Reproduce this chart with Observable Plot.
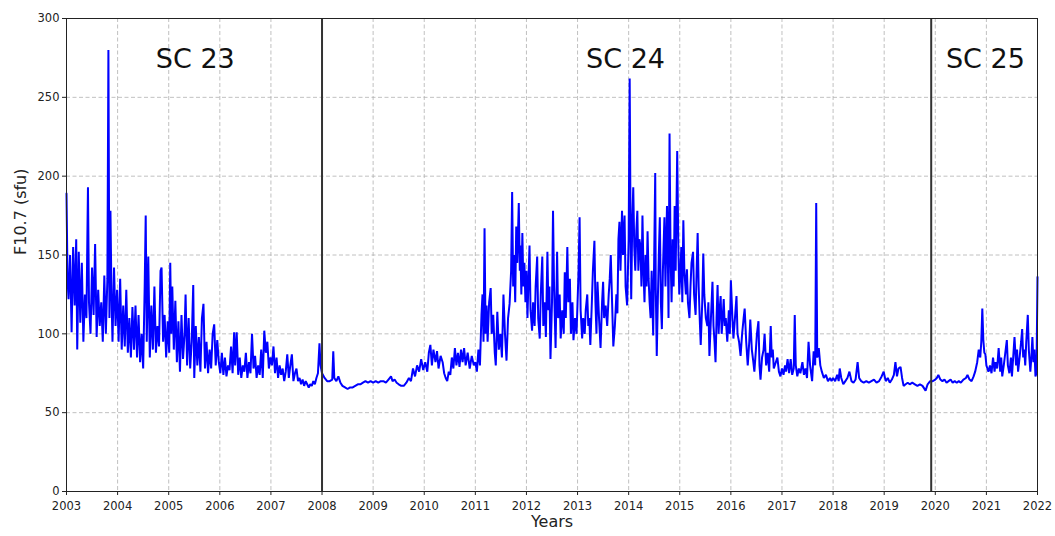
<!DOCTYPE html>
<html>
<head>
<meta charset="utf-8">
<script src="https://cdn.jsdelivr.net/npm/d3@7"></script>
<script src="https://cdn.jsdelivr.net/npm/@observablehq/plot@0.6"></script>
<style>
  html, body { margin: 0; padding: 0; background: #fff; }
  #chart svg { display: block; }
</style>
</head>
<body>
<div id="chart"></div>
<script>
// [decimal year, F10.7 (sfu)]
const f107_2003_2007 = [
[2003.00,189],[2003.02,135],[2003.04,122],[2003.07,150],[2003.10,101],[2003.13,155],[2003.16,118],[2003.19,160],[2003.21,90],[2003.24,152],[2003.27,107],[2003.30,145],[2003.33,95],[2003.36,125],[2003.39,110],[2003.42,193],[2003.44,120],[2003.47,100],[2003.50,142],[2003.53,112],[2003.56,157],[2003.59,98],[2003.62,128],[2003.65,105],[2003.68,120],[2003.71,95],[2003.74,137],[2003.77,100],[2003.80,135],[2003.82,280],[2003.84,110],[2003.86,178],[2003.88,125],[2003.90,95],[2003.93,142],[2003.96,105],[2003.99,128],
[2004.02,95],[2004.05,135],[2004.08,90],[2004.11,118],[2004.14,92],[2004.17,128],[2004.20,88],[2004.23,110],[2004.26,85],[2004.29,117],[2004.32,90],[2004.35,118],[2004.38,85],[2004.41,112],[2004.44,82],[2004.47,100],[2004.50,78],[2004.53,130],[2004.55,175],[2004.57,95],[2004.60,149],[2004.63,85],[2004.66,118],[2004.69,90],[2004.72,130],[2004.75,88],[2004.78,105],[2004.81,92],[2004.84,140],[2004.86,142],[2004.89,95],[2004.92,112],[2004.95,85],[2004.98,108],
[2005.01,88],[2005.03,145],[2005.05,100],[2005.07,130],[2005.10,90],[2005.13,121],[2005.16,82],[2005.19,108],[2005.22,76],[2005.25,112],[2005.28,84],[2005.31,100],[2005.33,125],[2005.36,80],[2005.39,110],[2005.42,78],[2005.45,95],[2005.48,131],[2005.50,72],[2005.53,105],[2005.56,80],[2005.59,98],[2005.62,76],[2005.65,110],[2005.68,119],[2005.71,78],[2005.74,95],[2005.77,75],[2005.80,90],[2005.83,78],[2005.86,100],[2005.89,106],[2005.92,80],[2005.95,96],[2005.98,82],
[2006.01,75],[2006.04,88],[2006.07,74],[2006.10,85],[2006.13,73],[2006.16,80],[2006.19,77],[2006.22,92],[2006.25,75],[2006.28,101],[2006.30,80],[2006.33,101],[2006.36,74],[2006.39,85],[2006.42,72],[2006.45,80],[2006.48,76],[2006.51,88],[2006.54,72],[2006.57,82],[2006.60,75],[2006.63,100],[2006.66,78],[2006.69,86],[2006.72,72],[2006.75,80],[2006.78,74],[2006.81,90],[2006.84,72],[2006.87,102],[2006.90,88],[2006.93,95],[2006.96,78],[2006.99,85],
[2007.02,80],[2007.05,92],[2007.08,75],[2007.11,85],[2007.14,72],[2007.17,80],[2007.20,74],[2007.23,78],[2007.26,70],[2007.29,76],[2007.32,87],[2007.35,72],[2007.38,80],[2007.41,87],[2007.44,70],[2007.47,75],[2007.50,78],[2007.53,70],[2007.56,72],[2007.59,68],[2007.62,71],[2007.65,67],[2007.68,70],[2007.71,68],[2007.74,66],[2007.77,68],[2007.80,67],[2007.83,70],[2007.86,68],[2007.89,72],[2007.92,75],[2007.95,94],[2007.97,80]
];
const f107_2008_2010 = [
[2008.00,75],[2008.05,72],[2008.10,70],[2008.15,70],[2008.20,71],[2008.22,89],[2008.24,72],[2008.28,70],[2008.32,73],[2008.36,69],[2008.40,67],[2008.45,66],[2008.50,65],[2008.55,66],[2008.60,66],[2008.65,67],[2008.70,68],[2008.75,68],[2008.80,69],[2008.85,70],[2008.90,69],[2008.95,70],
[2009.00,69],[2009.05,70],[2009.10,69],[2009.15,70],[2009.20,70],[2009.25,69],[2009.30,71],[2009.35,73],[2009.38,70],[2009.42,71],[2009.46,69],[2009.50,68],[2009.55,67],[2009.60,67],[2009.65,69],[2009.70,72],[2009.74,70],[2009.78,78],[2009.82,73],[2009.86,80],[2009.90,76],[2009.94,84],[2009.98,77],
[2010.02,82],[2010.06,76],[2010.09,88],[2010.12,93],[2010.15,80],[2010.18,90],[2010.22,82],[2010.25,89],[2010.28,78],[2010.32,86],[2010.36,82],[2010.39,75],[2010.42,72],[2010.45,70],[2010.48,76],[2010.51,74],[2010.54,85],[2010.57,78],[2010.60,91],[2010.63,80],[2010.66,88],[2010.69,79],[2010.72,90],[2010.75,82],[2010.78,91],[2010.81,80],[2010.85,88],[2010.89,78],[2010.93,86],[2010.97,80]
];
const f107_2011_2016 = [
[2011.00,82],[2011.03,76],[2011.06,90],[2011.09,80],[2011.12,112],[2011.14,125],[2011.16,95],[2011.18,167],[2011.20,100],[2011.22,118],[2011.24,95],[2011.27,120],[2011.30,129],[2011.32,100],[2011.35,112],[2011.38,88],[2011.40,80],[2011.43,114],[2011.46,90],[2011.49,100],[2011.52,85],[2011.55,125],[2011.58,100],[2011.61,83],[2011.64,110],[2011.67,119],[2011.70,140],[2011.72,190],[2011.74,130],[2011.76,150],[2011.78,120],[2011.80,168],[2011.82,145],[2011.85,183],[2011.87,140],[2011.88,156],[2011.90,125],[2011.92,164],[2011.94,130],[2011.96,145],[2011.98,120],
[2012.00,140],[2012.02,110],[2012.04,135],[2012.06,156],[2012.08,115],[2012.11,102],[2012.13,120],[2012.16,105],[2012.18,130],[2012.21,149],[2012.23,110],[2012.26,97],[2012.28,125],[2012.31,149],[2012.33,105],[2012.36,120],[2012.38,98],[2012.41,152],[2012.43,115],[2012.45,130],[2012.47,84],[2012.50,120],[2012.52,178],[2012.54,130],[2012.57,91],[2012.60,152],[2012.62,110],[2012.65,125],[2012.67,97],[2012.70,115],[2012.73,100],[2012.75,139],[2012.77,110],[2012.80,155],[2012.82,120],[2012.85,135],[2012.87,100],[2012.90,120],[2012.92,96],[2012.95,110],[2012.98,100],
[2013.00,120],[2013.02,140],[2013.04,174],[2013.06,115],[2013.09,97],[2013.11,110],[2013.14,100],[2013.16,115],[2013.19,125],[2013.21,105],[2013.23,110],[2013.25,93],[2013.28,120],[2013.30,140],[2013.33,159],[2013.35,120],[2013.37,100],[2013.39,133],[2013.42,110],[2013.45,91],[2013.48,120],[2013.50,133],[2013.52,110],[2013.55,118],[2013.58,105],[2013.61,125],[2013.63,135],[2013.65,150],[2013.68,115],[2013.70,92],[2013.73,105],[2013.76,125],[2013.78,113],[2013.80,160],[2013.82,171],[2013.84,140],[2013.87,178],[2013.89,150],[2013.92,175],[2013.94,130],[2013.97,118],
[2014.00,160],[2014.02,262],[2014.04,150],[2014.05,122],[2014.07,170],[2014.09,193],[2014.11,155],[2014.13,140],[2014.15,165],[2014.17,178],[2014.19,140],[2014.21,160],[2014.23,156],[2014.25,130],[2014.27,175],[2014.29,140],[2014.31,120],[2014.33,150],[2014.35,130],[2014.37,165],[2014.39,135],[2014.41,120],[2014.43,110],[2014.45,140],[2014.48,99],[2014.50,150],[2014.52,202],[2014.53,130],[2014.55,86],[2014.57,120],[2014.59,150],[2014.61,174],[2014.63,120],[2014.65,103],[2014.67,140],[2014.70,174],[2014.72,130],[2014.75,181],[2014.77,140],[2014.78,110],[2014.80,227],[2014.82,150],[2014.84,120],[2014.86,160],[2014.88,130],[2014.90,181],[2014.92,140],[2014.95,216],[2014.97,160],[2014.99,125],
[2015.01,137],[2015.03,155],[2015.05,120],[2015.07,172],[2015.09,140],[2015.12,125],[2015.14,141],[2015.16,120],[2015.19,110],[2015.21,130],[2015.23,145],[2015.26,152],[2015.28,125],[2015.31,112],[2015.33,140],[2015.35,164],[2015.37,130],[2015.39,110],[2015.41,93],[2015.44,120],[2015.46,151],[2015.48,125],[2015.51,110],[2015.54,105],[2015.56,120],[2015.58,86],[2015.61,110],[2015.64,133],[2015.66,105],[2015.68,95],[2015.70,82],[2015.72,110],[2015.74,131],[2015.76,100],[2015.78,115],[2015.80,124],[2015.82,100],[2015.84,110],[2015.86,122],[2015.88,105],[2015.90,110],[2015.93,95],[2015.96,115],[2015.98,100],
[2016.00,134],[2016.03,110],[2016.05,97],[2016.08,110],[2016.11,124],[2016.13,100],[2016.16,95],[2016.19,86],[2016.22,100],[2016.25,110],[2016.27,116],[2016.30,95],[2016.33,80],[2016.36,95],[2016.38,109],[2016.41,90],[2016.44,82],[2016.46,76],[2016.49,90],[2016.51,100],[2016.54,108],[2016.56,80],[2016.58,71],[2016.61,85],[2016.64,90],[2016.66,100],[2016.69,80],[2016.72,88],[2016.75,76],[2016.78,105],[2016.80,85],[2016.82,90],[2016.84,78],[2016.88,82],[2016.91,85],[2016.94,76],[2016.97,73]
];
const f107_2017_2022 = [
[2017.00,78],[2017.03,74],[2017.06,80],[2017.08,76],[2017.11,84],[2017.14,75],[2017.17,84],[2017.20,74],[2017.23,78],[2017.25,112],[2017.27,80],[2017.30,73],[2017.33,78],[2017.36,75],[2017.40,82],[2017.43,74],[2017.46,78],[2017.49,72],[2017.52,95],[2017.55,80],[2017.59,70],[2017.62,89],[2017.65,80],[2017.67,183],[2017.69,85],[2017.72,91],[2017.75,80],[2017.78,76],[2017.82,72],[2017.86,74],[2017.90,70],[2017.94,72],[2017.97,70],
[2018.00,72],[2018.04,70],[2018.08,74],[2018.11,70],[2018.13,78],[2018.16,72],[2018.20,68],[2018.24,70],[2018.28,72],[2018.32,76],[2018.36,70],[2018.40,69],[2018.44,71],[2018.48,82],[2018.51,72],[2018.55,70],[2018.60,69],[2018.65,70],[2018.70,69],[2018.75,70],[2018.80,71],[2018.85,69],[2018.90,70],[2018.95,73],[2018.99,76],
[2019.03,70],[2019.07,72],[2019.11,69],[2019.15,71],[2019.19,74],[2019.22,82],[2019.25,73],[2019.28,78],[2019.32,79],[2019.35,72],[2019.38,67],[2019.42,68],[2019.46,69],[2019.50,68],[2019.55,69],[2019.60,68],[2019.65,67],[2019.70,68],[2019.75,67],[2019.81,64],[2019.85,68],[2019.90,70],[2019.95,70],
[2020.00,71],[2020.03,72],[2020.06,74],[2020.10,71],[2020.14,70],[2020.18,71],[2020.22,69],[2020.26,70],[2020.30,71],[2020.34,69],[2020.38,70],[2020.42,69],[2020.46,70],[2020.50,69],[2020.55,71],[2020.60,72],[2020.63,74],[2020.67,71],[2020.71,70],[2020.75,73],[2020.78,76],[2020.82,82],[2020.85,90],[2020.88,85],[2020.90,95],[2020.92,116],[2020.94,96],[2020.96,88],[2020.98,87],
[2021.00,80],[2021.02,78],[2021.04,76],[2021.07,80],[2021.10,75],[2021.13,85],[2021.16,76],[2021.18,82],[2021.21,78],[2021.24,91],[2021.27,76],[2021.29,85],[2021.31,73],[2021.34,80],[2021.37,88],[2021.40,96],[2021.42,80],[2021.45,75],[2021.48,85],[2021.50,73],[2021.53,88],[2021.55,98],[2021.58,80],[2021.60,90],[2021.62,76],[2021.65,85],[2021.68,95],[2021.70,103],[2021.72,85],[2021.74,90],[2021.76,80],[2021.78,95],[2021.81,112],[2021.83,90],[2021.86,76],[2021.88,85],[2021.90,98],[2021.92,82],[2021.94,90],[2021.96,73],[2021.98,75],[2022.00,136]
];

// cycle boundaries (decimal year) and cycle labels
const cycleBoundaries = [2008.0, 2019.92];
const cycleLabels = ["SC 23", "SC 24", "SC 25"];
const cycleLabelYear = [2005.52, 2013.94, 2020.98];
const cycleLabelValue = [274, 274, 274];

// tick labels
const xTicks = d3.range(2003, 2023);
const yTicks = [0, 50, 100, 150, 200, 250, 300];

const series = [...f107_2003_2007, ...f107_2008_2010, ...f107_2011_2016, ...f107_2017_2022]
  .map(([t, v]) => ({t, v}));
const labels = cycleLabels.map((s, i) => ({s, x: cycleLabelYear[i], y: cycleLabelValue[i]}));

const chart = Plot.plot({
  width: 1055,
  height: 536,
  marginLeft: 66,
  marginRight: 18,
  marginTop: 18,
  marginBottom: 45,
  style: {fontFamily: "'DejaVu Sans', sans-serif", fontSize: "11.5px", color: "#222", background: "#fff"},
  x: {domain: [2003, 2022]},
  y: {domain: [0, 300]},
  marks: [
    Plot.gridX(xTicks, {stroke: "#b0b0b0", strokeOpacity: 1, strokeWidth: 0.8, strokeDasharray: "4,2.5"}),
    Plot.gridY(yTicks, {stroke: "#b0b0b0", strokeOpacity: 1, strokeWidth: 0.8, strokeDasharray: "4,2.5"}),
    Plot.line(series, {x: "t", y: "v", stroke: "#0000ff", strokeWidth: 2, strokeLinejoin: "miter"}),
    Plot.ruleX(cycleBoundaries, {stroke: "#333", strokeWidth: 2}),
    Plot.text(labels, {x: "x", y: "y", text: "s", fontSize: 27, fill: "#111"}),
    Plot.axisX(xTicks, {tickFormat: d => String(d), tickSize: 4, tickPadding: 6, label: null, stroke: "#222"}),
    Plot.axisY(yTicks, {tickSize: 4, tickPadding: 3, label: null, stroke: "#222"}),
    Plot.text(["Years"], {frameAnchor: "bottom", dy: 35, fontSize: 16, fill: "#222"}),
    Plot.text(["F10.7 (sfu)"], {frameAnchor: "left", dx: -46, rotate: -90, fontSize: 16, fill: "#222"}),
    Plot.frame({stroke: "#222", strokeWidth: 1})
  ]
});
document.getElementById("chart").appendChild(chart);
</script>
</body>
</html>
